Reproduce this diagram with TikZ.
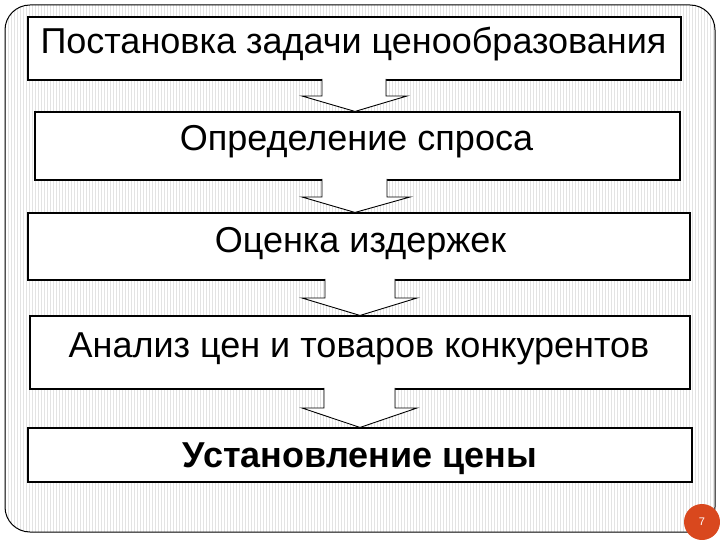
\documentclass[tikz,border=0pt]{standalone}
\usepackage{fontspec}
\setmainfont{Liberation Sans}
\usetikzlibrary{calc}
\definecolor{numred}{RGB}{217,72,30}
\newcommand\blockarr[8]{%
  \path[barrow] ($(#3,0 |- #1.south)+(0,-1.6)$) -- (#3,#7) -- (#5,#7) -- (#8,0 |- #2.north) -- (#6,#7) -- (#4,#7) -- ($(#4,0 |- #1.south)+(0,-1.6)$);}
\begin{document}
\begin{tikzpicture}[x=1pt,y=-1pt,
  box/.style={draw=black, line width=1.1pt, fill=white, inner sep=0pt},
  lbl/.style={anchor=base, font=\fontsize{36}{42}\selectfont, inner sep=0pt},
  barrow/.style={draw=black, line width=0.9pt, fill=white, line join=miter}]
\useasboundingbox (0,0) rectangle (720,540);
\begin{scope}
  \clip[rounded corners=25] (5,5) rectangle (715,532);
  \foreach \x in {5,8,...,716} \draw[black!11, line width=1pt] (\x,5) -- (\x,532);
\end{scope}
\draw[line width=1pt, rounded corners=25] (5,5) rectangle (715,532);

\node[box, minimum width=653pt, minimum height=63pt] (b1) at (354.5,48.5) {};
\node[box, minimum width=645pt, minimum height=68pt] (b2) at (357.5,146) {};
\node[box, minimum width=662pt, minimum height=67pt] (b3) at (359,246.5) {};
\node[box, minimum width=660pt, minimum height=73pt] (b4) at (360,352.5) {};
\node[box, minimum width=664pt, minimum height=54pt] (b5) at (360,455) {};

\node[lbl] (t1) at (353.5,54) {Постановка задачи ценообразования};
\node[lbl] (t2) at (356.5,151) {Определение спроса};
\node[lbl] (t3) at (360.5,252) {Оценка издержек};
\node[lbl] (t4) at (359,357) {Анализ цен и товаров конкурентов};
\node[lbl, font=\fontsize{36}{42}\selectfont\bfseries] (t5) at (360,467) {Установление цены};

\blockarr{b1}{b2}{322}{386}{302}{407}{96}{355}
\blockarr{b2}{b3}{322}{387}{302}{410}{197}{355}
\blockarr{b3}{b4}{325}{395}{302}{417}{298}{360}
\blockarr{b4}{b5}{324}{395}{302}{417}{408}{360}

\node[circle, fill=numred, minimum size=36pt, inner sep=0pt, text=white,
      font=\fontsize{11}{12}\selectfont] (pg) at (702,522) {7};
\end{tikzpicture}
\end{document}
